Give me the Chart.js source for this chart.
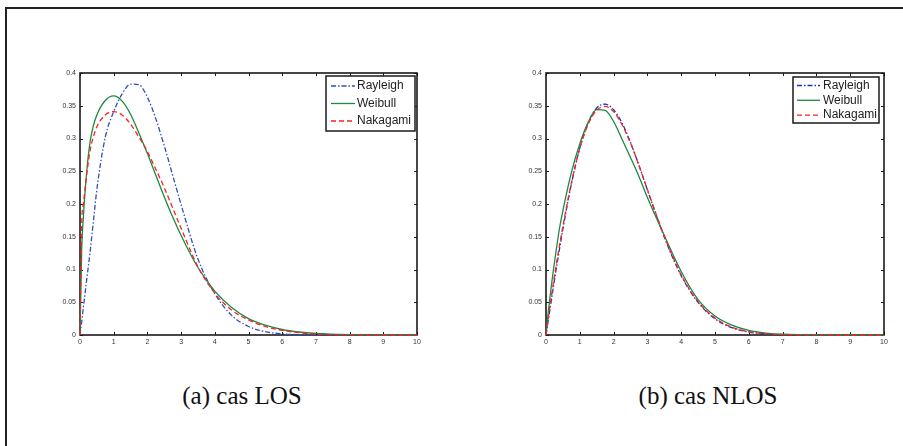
<!DOCTYPE html>
<html><head><meta charset="utf-8">
<script src="https://cdn.jsdelivr.net/npm/chart.js@4.4.1/dist/chart.umd.min.js"></script>
<style>
html,body{margin:0;padding:0;background:#fff;width:903px;height:446px;overflow:hidden;}
#frame{position:absolute;left:5px;top:7px;width:1000px;height:1000px;border-top:2px solid #222;border-left:2px solid #222;}
canvas{position:absolute;}
.cap{position:absolute;font-family:"Liberation Serif","Times New Roman",serif;font-size:25px;line-height:25px;color:#111;white-space:nowrap;transform:translateX(-50%);}
</style></head><body>
<div id="frame"></div>
<canvas id="c1" width="400" height="300" style="left:30px;top:60px"></canvas>
<canvas id="c2" width="400" height="300" style="left:496px;top:60px"></canvas>
<div class="cap" style="left:242px;top:383px">(a) cas LOS</div>
<div class="cap" style="left:708px;top:383px">(b) cas NLOS</div>
<script>
// ---- data ----
const xGrid = [0,0.05,0.1,0.2,0.3,0.4,0.5,0.75,1,1.25,1.5,1.75,2,2.25,2.5,2.75,3,3.5,4,4.5,5,5.5,6,6.5,7,8,9,10];
const seriesNames = ["Rayleigh","Weibull","Nakagami"];
const losRayleigh = [0,0.02,0.042,0.085,0.127,0.175,0.222,0.302,0.341,0.368,0.383,0.382,0.363,0.330,0.289,0.244,0.199,0.116,0.063,0.030,0.013,0.005,0.0018,0.0006,0.0002,0,0,0];
const losWeibull = [0,0.13,0.18,0.25,0.295,0.32,0.336,0.358,0.365,0.357,0.337,0.308,0.277,0.244,0.211,0.180,0.152,0.103,0.067,0.042,0.025,0.015,0.0084,0.0046,0.0025,0.0007,0.00015,0.00003];
const losNakagami = [0,0.17,0.20,0.245,0.282,0.303,0.318,0.336,0.341,0.336,0.322,0.302,0.280,0.253,0.225,0.194,0.163,0.104,0.064,0.038,0.023,0.013,0.007,0.0035,0.0015,0.0002,0,0];
const nlosRayleigh = [0,0.0169,0.0337,0.0672,0.1003,0.1315,0.1619,0.2304,0.2854,0.3243,0.3465,0.3525,0.3439,0.3236,0.2939,0.259,0.2216,0.1494,0.0906,0.0497,0.0248,0.0112,0.0046,0.0017,0.0006,0.00005,0,0];
const nlosWeibull = [0,0.027,0.05,0.092,0.129,0.163,0.19,0.248,0.292,0.325,0.344,0.343,0.326,0.299,0.271,0.242,0.21,0.152,0.097,0.054,0.029,0.015,0.007,0.003,0.0012,0.0001,0,0];
const nlosNakagami = [0,0.02,0.038,0.073,0.106,0.137,0.166,0.232,0.285,0.322,0.343,0.349,0.341,0.321,0.293,0.259,0.222,0.151,0.092,0.051,0.026,0.012,0.005,0.002,0.0007,0.0001,0,0];
const xMin = 0, xMax = 10, xStep = 1;
const yMin = 0, yMax = 0.4, yStep = 0.05;

const pts = ys => xGrid.map((x,i)=>({x:x,y:ys[i]}));

const boxTicks = {
  id:'boxTicks',
  beforeDatasetsDraw(chart){
    const {ctx, chartArea:a, scales:{x,y}} = chart;
    ctx.save();
    ctx.strokeStyle='#1a1a1a';
    ctx.lineWidth=1;
    ctx.beginPath();
    x.ticks.forEach(t=>{
      const px=Math.round(x.getPixelForValue(t.value))+0.5;
      ctx.moveTo(px,a.bottom); ctx.lineTo(px,a.bottom-3);
      ctx.moveTo(px,a.top); ctx.lineTo(px,a.top+3);
    });
    y.ticks.forEach(t=>{
      const py=Math.round(y.getPixelForValue(t.value))+0.5;
      ctx.moveTo(a.left,py); ctx.lineTo(a.left+3,py);
      ctx.moveTo(a.right,py); ctx.lineTo(a.right-3,py);
    });
    ctx.stroke();
    ctx.lineWidth=1.6;
    ctx.strokeRect(a.left,a.top,a.right-a.left,a.bottom-a.top);
    ctx.restore();
  }
};

const boxLegend = {
  id:'boxLegend',
  afterDatasetsDraw(chart, args, o){
    const {ctx, chartArea:a} = chart;
    const left = a.right - o.offRight - o.w, top = a.top + o.offTop;
    ctx.save();
    ctx.fillStyle='#fff';
    ctx.fillRect(left,top,o.w,o.h);
    ctx.strokeStyle='#1a1a1a'; ctx.lineWidth=1.5;
    ctx.strokeRect(left,top,o.w,o.h);
    ctx.font='12px "Liberation Sans", Arial, sans-serif';
    ctx.textBaseline='middle'; ctx.textAlign='left';
    chart.data.datasets.forEach((ds,i)=>{
      const yy = top + o.row0 + i*o.rowGap;
      ctx.strokeStyle=ds.borderColor; ctx.lineWidth=ds.borderWidth;
      ctx.setLineDash(ds.borderDash||[]);
      ctx.beginPath(); ctx.moveTo(left+o.l0,yy); ctx.lineTo(left+o.l1,yy); ctx.stroke();
      ctx.setLineDash([]);
      ctx.fillStyle='#222';
      ctx.fillText(ds.label,left+o.tx,yy);
    });
    ctx.restore();
  }
};

function makeChart(id, r, w, n, legendOpts, padRight, blue){
  const styles = [
    {borderColor:blue, borderDash:[5,2,1.5,2], order:3},
    {borderColor:'#1b8a3f', borderDash:[], order:2},
    {borderColor:'#ff2020', borderDash:[5,3], order:1}
  ];
  const vals=[r,w,n];
  return new Chart(document.getElementById(id),{
    type:'line',
    data:{datasets:vals.map((v,i)=>Object.assign({
      label:seriesNames[i], data:pts(v), borderWidth:1.3, pointRadius:0,
      fill:false, cubicInterpolationMode:'monotone', clip:4
    },styles[i]))},
    options:{
      responsive:false, animation:false, devicePixelRatio:1,
      layout:{padding:{left:0,right:padRight,top:13,bottom:0}},
      plugins:{legend:{display:false},tooltip:{enabled:false},boxLegend:legendOpts},
      scales:{
        x:{type:'linear',min:xMin,max:xMax,
           grid:{display:false,drawTicks:false},border:{display:false},
           ticks:{stepSize:xStep,padding:3,color:'#333',font:{size:7,family:'"Liberation Sans", Arial, sans-serif'},maxRotation:0},
           afterFit(s){s.height=25;}},
        y:{type:'linear',min:yMin,max:yMax,
           grid:{display:false,drawTicks:false},border:{display:false},
           ticks:{stepSize:yStep,padding:4,color:'#333',font:{size:7,family:'"Liberation Sans", Arial, sans-serif'},
                  callback:v=>String(+Number(v).toFixed(2))},
           afterFit(s){s.width=50;}}
      }
    },
    plugins:[boxTicks, boxLegend]
  });
}

makeChart('c1', losRayleigh, losWeibull, losNakagami,
  {offRight:2, offTop:3, w:89, h:55, row0:10, rowGap:17.5, l0:5, l1:29, tx:31}, 13, '#2f4fc0');
makeChart('c2', nlosRayleigh, nlosWeibull, nlosNakagami,
  {offRight:5, offTop:4, w:86, h:46, row0:8.5, rowGap:14.8, l0:4, l1:27, tx:30}, 12, '#1f33b0');
</script>
</body></html>
